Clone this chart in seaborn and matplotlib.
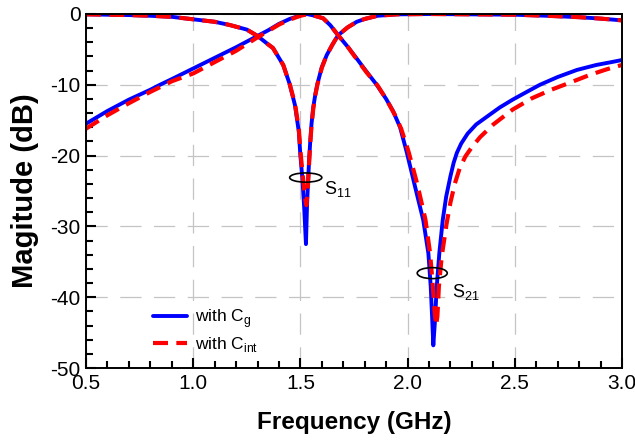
import numpy as np
import pandas as pd
import matplotlib
matplotlib.use('Agg')
import matplotlib.pyplot as plt
from matplotlib.patches import Ellipse
from matplotlib.ticker import MultipleLocator
import seaborn as sns

# ------------------------------------------------------------
# data
# ------------------------------------------------------------
# S11, with C_g (blue solid)
s11_cg_freq = [0.5, 0.6, 0.7, 0.8, 0.9, 1.0, 1.1, 1.17, 1.25, 1.30, 1.35, 1.372, 1.40,
               1.42, 1.45, 1.475, 1.493, 1.50, 1.51, 1.518, 1.526, 1.531, 1.536, 1.541,
               1.546, 1.552, 1.56, 1.57, 1.58, 1.60, 1.623, 1.65, 1.676, 1.72, 1.763,
               1.80, 1.86, 1.95, 2.1, 2.3, 2.5, 2.65, 2.8, 2.9, 3.0]
s11_cg_mag = [-0.05, -0.1, -0.15, -0.25, -0.4, -0.75, -1.1, -1.55, -2.2, -3.1, -4.3, -4.8,
              -6.2, -7.2, -9.9, -12.9, -16.7, -20.0, -23.5, -27.5, -32.5, -27.0, -23.5,
              -20.5, -18.0, -15.5, -13.2, -11.3, -9.8, -7.5, -5.8, -4.3, -3.0, -1.9, -1.1,
              -0.7, -0.25, -0.05, 0.0, -0.05, -0.1, -0.25, -0.45, -0.65, -0.9]

# S11, with C_int (red dashed)
s11_cint_freq = [0.5, 0.6, 0.7, 0.8, 0.9, 1.0, 1.1, 1.17, 1.25, 1.30, 1.35, 1.372, 1.40,
                 1.42, 1.45, 1.475, 1.493, 1.50, 1.51, 1.522, 1.528, 1.534, 1.54, 1.546,
                 1.552, 1.56, 1.57, 1.58, 1.60, 1.623, 1.65, 1.676, 1.72, 1.763, 1.80,
                 1.86, 1.95, 2.1, 2.3, 2.5, 2.65, 2.8, 2.9, 3.0]
s11_cint_mag = [-0.05, -0.1, -0.15, -0.25, -0.4, -0.75, -1.1, -1.55, -2.2, -3.1, -4.3, -4.8,
                -6.2, -7.2, -9.9, -12.7, -16.3, -19.3, -22.5, -26.0, -27.0, -25.0, -21.5,
                -18.3, -15.8, -13.4, -11.4, -9.9, -7.6, -5.8, -4.3, -3.0, -1.9, -1.1, -0.7,
                -0.25, -0.05, 0.0, -0.05, -0.1, -0.25, -0.45, -0.65, -0.9]

# S21, with C_g (blue solid)
s21_cg_freq = [0.5, 0.6, 0.7, 0.8, 0.845, 0.9, 1.0, 1.1, 1.2, 1.3, 1.35, 1.4, 1.45, 1.5,
               1.53, 1.56, 1.606, 1.64, 1.676, 1.72, 1.763, 1.81, 1.856, 1.90, 1.932,
               1.965, 1.996, 2.035, 2.073, 2.097, 2.108, 2.115, 2.12, 2.128, 2.136, 2.148,
               2.164, 2.18, 2.20, 2.215, 2.23, 2.25, 2.28, 2.32, 2.384, 2.43, 2.49, 2.556,
               2.617, 2.70, 2.79, 2.88, 2.95, 3.0]
s21_cg_mag = [-15.5, -13.7, -12.1, -10.7, -10.0, -9.2, -7.7, -6.2, -4.7, -3.1, -2.3, -1.4,
              -0.7, -0.2, 0.0, -0.2, -0.6, -1.6, -3.0, -4.6, -6.3, -8.2, -10.0, -12.0,
              -13.7, -16.0, -19.5, -24.4, -29.1, -33.8, -38.5, -43.2, -46.8, -43.2, -38.5,
              -33.8, -29.1, -25.8, -22.9, -21.0, -19.6, -18.3, -16.9, -15.6, -14.2, -13.2,
              -12.1, -11.0, -10.0, -8.9, -7.9, -7.2, -6.8, -6.5]

# S21, with C_int (red dashed)
s21_cint_freq = [0.5, 0.6, 0.7, 0.8, 0.868, 0.9, 1.0, 1.1, 1.2, 1.3, 1.35, 1.4, 1.45, 1.5,
                 1.53, 1.56, 1.606, 1.64, 1.676, 1.72, 1.763, 1.81, 1.86, 1.90, 1.94,
                 1.97, 2.005, 2.045, 2.083, 2.105, 2.118, 2.126, 2.133, 2.139, 2.146,
                 2.159, 2.182, 2.20, 2.221, 2.244, 2.27, 2.30, 2.338, 2.40, 2.49, 2.58,
                 2.67, 2.757, 2.85, 2.93, 3.0]
s21_cint_mag = [-16.2, -14.3, -12.6, -11.0, -10.0, -9.5, -8.4, -6.8, -5.2, -3.3, -2.4, -1.5,
                -0.8, -0.25, -0.05, -0.2, -0.6, -1.6, -3.0, -4.6, -6.4, -8.3, -10.1, -12.0,
                -14.2, -16.2, -19.5, -24.0, -29.0, -33.8, -38.5, -42.0, -44.0, -42.7, -38.5,
                -34.3, -29.6, -26.6, -23.9, -21.7, -20.1, -18.8, -17.4, -15.6, -13.5, -11.9,
                -10.7, -9.7, -8.6, -7.8, -7.2]

legend_labels = ['with C$_\\mathregular{g}$', 'with C$_\\mathregular{int}$']

# ------------------------------------------------------------
# figure
# ------------------------------------------------------------
sns.set_style('ticks')
plt.rcParams['font.family'] = ['Liberation Sans', 'DejaVu Sans']
plt.rcParams['mathtext.fontset'] = 'custom'
plt.rcParams['mathtext.rm'] = 'Liberation Sans'
plt.rcParams['axes.unicode_minus'] = False
plt.rcParams['text.color'] = 'black'

fig = plt.figure(figsize=(6.35, 4.43), dpi=100)
ax = fig.add_axes([0.1354, 0.1693, 0.8441, 0.7991])

blue_kw = dict(color='#0000ff', linewidth=2.8, linestyle='-')
red_kw = dict(color='#ff0000', linewidth=3.0, linestyle=(0, (3.6, 2.0)))

sns.lineplot(x=s11_cg_freq, y=s11_cg_mag, ax=ax, label=legend_labels[0], **blue_kw)
sns.lineplot(x=s21_cg_freq, y=s21_cg_mag, ax=ax, **blue_kw)
sns.lineplot(x=s11_cint_freq, y=s11_cint_mag, ax=ax, label=legend_labels[1], **red_kw)
sns.lineplot(x=s21_cint_freq, y=s21_cint_mag, ax=ax, **red_kw)

ax.set_xlim(0.5, 3.0)
ax.set_ylim(-50, 0)
ax.xaxis.set_major_locator(MultipleLocator(0.5))
ax.xaxis.set_minor_locator(MultipleLocator(0.1))
ax.yaxis.set_major_locator(MultipleLocator(10))
ax.yaxis.set_minor_locator(MultipleLocator(2))
ax.set_xticklabels([f'{v:.1f}' for v in ax.get_xticks()])

ax.grid(True, which='major', color='#c4c4c4', linewidth=0.9, linestyle=(0, (17, 10)))
ax.tick_params(which='both', direction='in', bottom=True, left=True, top=False, right=False,
               labelsize=15, width=1.5, color='black', labelcolor='black', pad=4)
ax.tick_params(which='major', length=7.5)
ax.tick_params(which='minor', length=5)
for sp in ax.spines.values():
    sp.set_visible(True)
    sp.set_color('black')
    sp.set_linewidth(1.4)

ax.set_xlabel('Frequency (GHz)', fontsize=17.5, fontweight='bold', labelpad=13, color='black')
ax.set_ylabel('Magitude (dB)', fontsize=21, fontweight='bold', labelpad=8, color='black')

# S-parameter markers
ax.add_patch(Ellipse((1.525, -23.1), 0.15, 1.3, fill=False, edgecolor='black', linewidth=1.2, zorder=5))
ax.text(1.612, -24.7, 'S$_\\mathregular{11}$', fontsize=13, va='center', ha='left')
ax.add_patch(Ellipse((2.115, -36.6), 0.14, 1.55, fill=False, edgecolor='black', linewidth=1.2, zorder=5))
ax.text(2.205, -39.3, 'S$_\\mathregular{21}$', fontsize=13, va='center', ha='left')

leg = ax.legend(loc='lower left', bbox_to_anchor=(0.105, 0.01), frameon=False,
                fontsize=12.5, handlelength=2.0, handletextpad=0.45,
                labelspacing=0.3, borderaxespad=0.2)

fig.savefig('out.png', dpi=100)
